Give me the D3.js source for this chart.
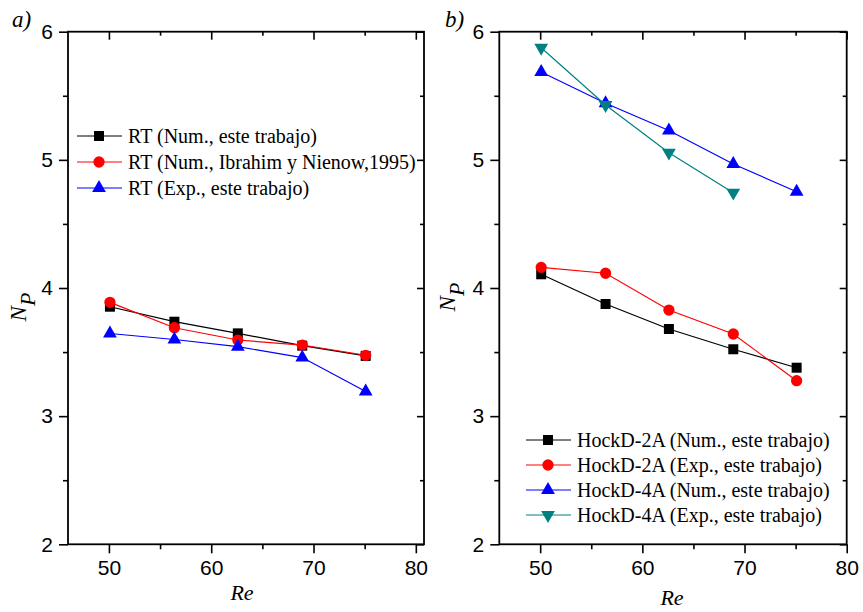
<!DOCTYPE html>
<html>
<head>
<meta charset="utf-8">
<script src="https://cdn.jsdelivr.net/npm/d3@7"></script>
<style>
  html, body { margin: 0; padding: 0; background: #fff; }
  svg { display: block; }
</style>
</head>
<body>
<svg id="chart" width="863" height="612"></svg>
<script>
// Reynolds numbers of the runs
const reValues = [50.1, 56.4, 62.6, 68.9, 75.1];

// Panel a) Rushton turbine
const rtNum = [3.854, 3.737, 3.646, 3.550, 3.470];
const rtIbrahim = [3.888, 3.690, 3.594, 3.555, 3.475];
const rtExp = [3.645, 3.598, 3.542, 3.457, 3.192];

// Panel b) HockD impellers
const hock2Num = [4.107, 3.875, 3.680, 3.522, 3.378];
const hock2Exp = [4.161, 4.115, 3.828, 3.641, 3.277];
const hock4Num = [5.686, 5.442, 5.229, 4.968, 4.751];
const hock4Exp = [5.875, 5.428, 5.056, 4.744];

const xTicks = [50, 60, 70, 80];
const yTicks = [2, 3, 4, 5, 6];

const seriesA = [
  { name: "RT (Num., este trabajo)", values: rtNum, color: "#000000", symbol: "square" },
  { name: "RT (Num., Ibrahim y Nienow,1995)", values: rtIbrahim, color: "#ff0000", symbol: "circle" },
  { name: "RT (Exp., este trabajo)", values: rtExp, color: "#0000ff", symbol: "triangle" }
];
const seriesB = [
  { name: "HockD-2A (Num., este trabajo)", values: hock2Num, color: "#000000", symbol: "square" },
  { name: "HockD-2A (Exp., este trabajo)", values: hock2Exp, color: "#ff0000", symbol: "circle" },
  { name: "HockD-4A (Num., este trabajo)", values: hock4Num, color: "#0000ff", symbol: "triangle" },
  { name: "HockD-4A (Exp., este trabajo)", values: hock4Exp, color: "#008080", symbol: "triangleDown" }
];

const svg = d3.select("#chart");
const tickFont = "'Liberation Sans', Arial, sans-serif";
const serif = "'Liberation Serif', 'Times New Roman', serif";

function symbolPath(kind) {
  if (kind === "square") return d3.symbol(d3.symbolSquare, 100)();
  if (kind === "circle") return d3.symbol(d3.symbolCircle, 100)();
  return d3.symbol(d3.symbolTriangle, 82)();
}

function drawPanel(cfg) {
  const x = d3.scaleLinear().domain(cfg.xDomain).range([cfg.left, cfg.right]);
  const y = d3.scaleLinear().domain([2, 6]).range([cfg.bottom, cfg.top]);
  const g = svg.append("g");

  const minorX = d3.range(55, 80, 10);
  const minorY = d3.range(2.5, 6, 1);

  // bottom axis: outward ticks with labels
  g.append("g").attr("transform", `translate(0,${cfg.bottom})`)
    .call(d3.axisBottom(x).tickValues(xTicks).tickSize(9).tickPadding(7).tickFormat(d3.format("d")));
  g.append("g").attr("transform", `translate(0,${cfg.bottom})`)
    .call(d3.axisBottom(x).tickValues(minorX).tickSize(5).tickFormat(""));
  // top axis: inward ticks
  g.append("g").attr("transform", `translate(0,${cfg.top})`)
    .call(d3.axisBottom(x).tickValues(xTicks).tickSize(8).tickFormat(""));
  g.append("g").attr("transform", `translate(0,${cfg.top})`)
    .call(d3.axisBottom(x).tickValues(minorX).tickSize(4).tickFormat(""));
  // left axis: outward ticks with labels
  g.append("g").attr("transform", `translate(${cfg.left},0)`)
    .call(d3.axisLeft(y).tickValues(yTicks).tickSize(9).tickPadding(6).tickFormat(d3.format("d")));
  g.append("g").attr("transform", `translate(${cfg.left},0)`)
    .call(d3.axisLeft(y).tickValues(minorY).tickSize(5).tickFormat(""));
  // right axis: inward ticks
  g.append("g").attr("transform", `translate(${cfg.right},0)`)
    .call(d3.axisLeft(y).tickValues(yTicks).tickSize(7).tickFormat(""));
  g.append("g").attr("transform", `translate(${cfg.right},0)`)
    .call(d3.axisLeft(y).tickValues(minorY).tickSize(4).tickFormat(""));

  g.selectAll(".domain").remove();
  g.selectAll(".tick line").attr("stroke", "#000").attr("stroke-width", 1.6);
  g.selectAll(".tick text").attr("font-family", tickFont).attr("font-size", 21).attr("fill", "#000");

  // frame
  g.append("rect")
    .attr("x", cfg.left).attr("y", cfg.top)
    .attr("width", cfg.right - cfg.left).attr("height", cfg.bottom - cfg.top)
    .attr("fill", "none").attr("stroke", "#000").attr("stroke-width", 1.8);

  // series lines and markers
  const line = d3.line().x((d, i) => x(reValues[i])).y(d => y(d));
  cfg.series.forEach(s => {
    g.append("path").datum(s.values)
      .attr("d", line).attr("fill", "none")
      .attr("stroke", s.color).attr("stroke-width", 1.2);
    g.selectAll(null).data(s.values).enter().append("path")
      .attr("d", symbolPath(s.symbol))
      .attr("transform", (d, i) => `translate(${x(reValues[i])},${y(d)})${s.symbol === "triangleDown" ? " rotate(180)" : ""}`)
      .attr("fill", s.color);
  });

  // legend
  const lg = g.append("g");
  cfg.series.forEach((s, i) => {
    const cy = cfg.legend.y + i * cfg.legend.dy;
    lg.append("line")
      .attr("x1", cfg.legend.x).attr("x2", cfg.legend.x + 45)
      .attr("y1", cy).attr("y2", cy)
      .attr("stroke", s.color).attr("stroke-width", 1);
    lg.append("path")
      .attr("d", symbolPath(s.symbol))
      .attr("transform", `translate(${cfg.legend.x + 22},${cy})${s.symbol === "triangleDown" ? " rotate(180)" : ""}`)
      .attr("fill", s.color);
    lg.append("text")
      .attr("x", cfg.legend.x + 51).attr("y", cy + 6.5)
      .attr("font-family", serif).attr("font-size", 20).attr("fill", "#000")
      .text(s.name);
  });

  // axis titles
  g.append("text")
    .attr("x", cfg.reX).attr("y", cfg.reY)
    .attr("text-anchor", "middle")
    .attr("font-family", serif).attr("font-style", "italic").attr("font-size", 22)
    .text("Re");

  const np = g.append("text")
    .attr("transform", `translate(${cfg.npX},${cfg.npY}) rotate(-90)`)
    .attr("text-anchor", "middle")
    .attr("font-family", serif).attr("font-style", "italic").attr("font-size", 23);
  np.append("tspan").text("N");
  np.append("tspan").attr("dy", 9).attr("font-size", 22).text("P");

  // panel letter
  g.append("text")
    .attr("x", cfg.tagX).attr("y", 27)
    .attr("font-family", serif).attr("font-style", "italic").attr("font-size", 23)
    .text(cfg.tag);
}

drawPanel({
  left: 68, right: 424, top: 31.7, bottom: 544.3,
  xDomain: [46, 80.8],
  series: seriesA,
  legend: { x: 77, y: 136, dy: 26 },
  reX: 242, reY: 600,
  npX: 26, npY: 307,
  tag: "a)", tagX: 12
});

drawPanel({
  left: 499.3, right: 846.7, top: 31.7, bottom: 544.3,
  xDomain: [46, 80],
  series: seriesB,
  legend: { x: 526, y: 440, dy: 25 },
  reX: 672, reY: 605,
  npX: 455, npY: 297,
  tag: "b)", tagX: 445
});
</script>
</body>
</html>
